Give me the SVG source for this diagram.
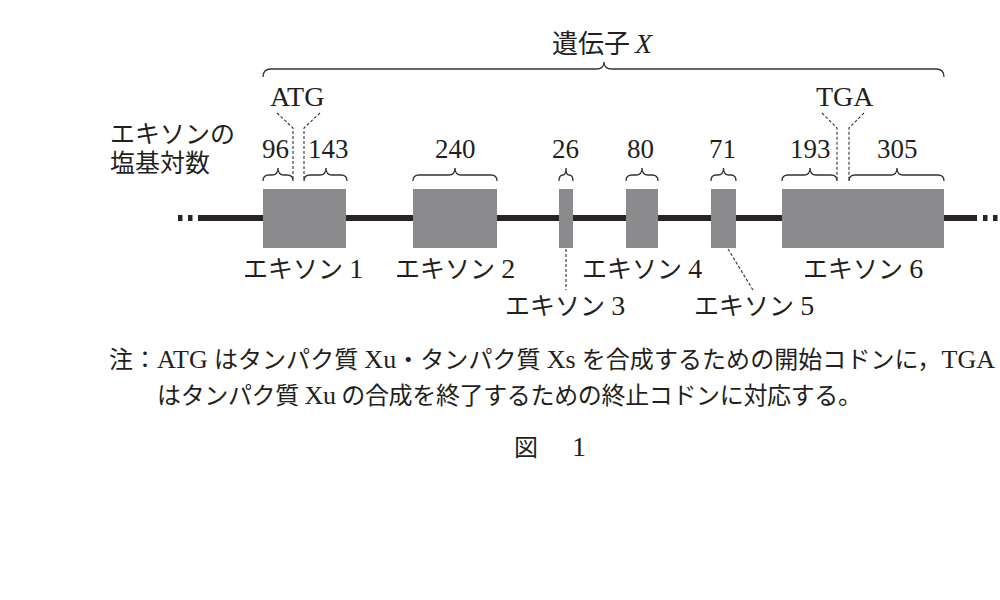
<svg xmlns="http://www.w3.org/2000/svg" width="1000" height="600" viewBox="0 0 1000 600">
<style>
.t{font-family:"Liberation Serif","Noto Sans CJK JP",serif;fill:#231f20}
.jp{font-size:25px}
.d{font-size:28px}
.num{font-size:27px}
.cod{font-size:28px}
.note{font-size:24px}
.lat{font-size:26px}
.exon{fill:#8b8b8d}
.br{fill:none;stroke:#333;stroke-width:1.3}
.dash{fill:none;stroke:#333;stroke-width:1.1;stroke-dasharray:3 2}
.bb{stroke:#2a2422;stroke-width:6}
</style>
<rect width="1000" height="600" fill="#fff"/>
<g id="backbone">
<line class="bb" x1="198" y1="218" x2="977" y2="218"/>
<rect x="178" y="215" width="4.5" height="6" fill="#2a2422"/>
<rect x="188" y="215" width="4.5" height="6" fill="#2a2422"/>
<rect x="983" y="215" width="4.5" height="6" fill="#2a2422"/>
<rect x="993" y="215" width="4.5" height="6" fill="#2a2422"/>
</g>
<g id="exon1"><rect class="exon" x="263" y="189" width="83" height="59"/><text class="t jp" x="243" y="278">エキソン <tspan class="d">1</tspan></text></g>
<g id="exon2"><rect class="exon" x="413" y="189" width="84" height="59"/><text class="t jp" x="395" y="278">エキソン <tspan class="d">2</tspan></text></g>
<g id="exon3"><rect class="exon" x="559" y="189" width="14" height="59"/><text class="t jp" x="505" y="315">エキソン <tspan class="d">3</tspan></text></g>
<g id="exon4"><rect class="exon" x="626" y="189" width="32" height="59"/><text class="t jp" x="582" y="278">エキソン <tspan class="d">4</tspan></text></g>
<g id="exon5"><rect class="exon" x="711" y="189" width="25" height="59"/><text class="t jp" x="694" y="315">エキソン <tspan class="d">5</tspan></text></g>
<g id="exon6"><rect class="exon" x="782" y="189" width="162" height="59"/><text class="t jp" x="803" y="278">エキソン <tspan class="d">6</tspan></text></g>
<g id="connectors">
<line class="dash" x1="566" y1="249" x2="566" y2="290"/>
<line class="dash" x1="728" y1="249" x2="753" y2="290"/>
<path class="dash" d="M277,113 L293,128 L293,180"/>
<path class="dash" d="M320,113 L304,128 L304,180"/>
<path class="dash" d="M822,113 L837,128 L837,180"/>
<path class="dash" d="M864,113 L849,128 L849,180"/>
</g>
<g id="gene-brace">
<path class="br" d="M263,77 Q263,69 271,69 L596,69 Q604,69 604,62 Q604,69 612,69 L936,69 Q944,69 944,77"/>
<text class="t" x="552" y="53" font-size="26">遺伝子<tspan x="635" font-size="28" font-style="italic">X</tspan></text>
</g>
<g id="size-braces">
<path class="br" d="M263,181 Q263,175 269,175 L272,175 Q278,175 278,168 Q278,175 284,175 L287,175 Q293,175 293,181"/>
<path class="br" d="M304,181 Q304,175 310,175 L320,175 Q326,175 326,168 Q326,175 332,175 L341,175 Q347,175 347,181"/>
<path class="br" d="M413,181 Q413,175 419,175 L449,175 Q455,175 455,168 Q455,175 461,175 L491,175 Q497,175 497,181"/>
<path class="br" d="M559,181 Q559,175 563,175 Q566,175 566,168 Q566,175 569,175 Q573,175 573,181"/>
<path class="br" d="M626,181 Q626,175 632,175 L636,175 Q642,175 642,168 Q642,175 648,175 L652,175 Q658,175 658,181"/>
<path class="br" d="M711,181 Q711,175 716,175 L718,175 Q723.5,175 723.5,168 Q723.5,175 729,175 L731,175 Q736,175 736,181"/>
<path class="br" d="M782,181 Q782,175 788,175 L804,175 Q810,175 810,168 Q810,175 816,175 L831,175 Q837,175 837,181"/>
<path class="br" d="M849,181 Q849,175 855,175 L891,175 Q897,175 897,168 Q897,175 903,175 L938,175 Q944,175 944,181"/>
<text class="t num" x="262" y="158">96</text>
<text class="t num" x="308" y="158">143</text>
<text class="t num" x="435" y="158">240</text>
<text class="t num" x="552" y="158">26</text>
<text class="t num" x="627" y="158">80</text>
<text class="t num" x="709" y="158">71</text>
<text class="t num" x="790" y="158">193</text>
<text class="t num" x="877" y="158">305</text>
</g>
<g id="codons">
<text class="t cod" x="270" y="106">ATG</text>
<text class="t cod" x="816" y="106">TGA</text>
</g>
<g id="axis-label">
<text class="t jp" x="110" y="143">エキソンの</text>
<text class="t jp" x="110" y="172">塩基対数</text>
</g>
<g id="note">
<text class="t note" x="109" y="368" textLength="886" lengthAdjust="spacing">注：<tspan class="lat">ATG</tspan> はタンパク質 <tspan class="lat">Xu</tspan>・タンパク質 <tspan class="lat">Xs</tspan> を合成するための開始コドンに，<tspan class="lat">TGA</tspan></text>
<text class="t note" x="157" y="404" textLength="705" lengthAdjust="spacing">はタンパク質 <tspan class="lat">Xu</tspan> の合成を終了するための終止コドンに対応する。</text>
<text class="t note" x="514" y="456">図</text>
<text class="t" x="572" y="456" font-size="28">1</text>
</g>
</svg>
